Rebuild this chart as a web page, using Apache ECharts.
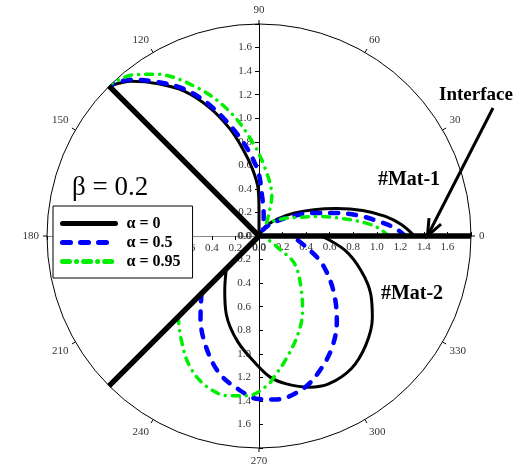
<!DOCTYPE html>
<html>
<head>
<meta charset="utf-8">
<script src="https://cdn.jsdelivr.net/npm/echarts@6/dist/echarts.min.js"></script>
<style>
  html, body { margin: 0; padding: 0; background: #fff; }
  #main { width: 518px; height: 464px; }
</style>
</head>
<body>
<div id="main"></div>
<script>
// every point is [radius, angle in degrees]
const mat1Alpha0 = [[1.32,0],[1.215,4.5],[1.086,8.8],[0.906,13.8],[0.70,19.4],[0.518,25.6],[0.36,33],[0.22,41.8],[0.097,56],[0,70],[0.2,90],[0.397,91],[0.572,95.6],[0.754,100.6],[0.947,105.3],[1.163,110.9],[1.384,117.3],[1.55,123.5],[1.70,129.4],[1.8,135]];
const mat1Alpha05 = [[1.24,0],[1.158,3.3],[1.026,6.9],[0.87,11.4],[0.688,16.5],[0.506,22.8],[0.32,31.2],[0.154,45],[0.06,58],[0.171,76.5],[0.34,85.6],[0.569,91.5],[0.858,101.2],[1.184,110.5],[1.40,117],[1.56,123.2],[1.72,129.5],[1.8,135]];
const mat1Alpha095 = [[1.10,0],[1.02,3.7],[0.914,6.9],[0.73,11.6],[0.548,17.6],[0.365,25.6],[0.25,36],[0.16,50],[0.13,60],[0.25,68],[0.356,72.2],[0.571,84.6],[0.801,94],[1.087,103.3],[1.364,112.6],[1.633,122.7],[1.74,128.2],[1.8,134]];

const mat2Alpha0 = [[0.393,225],[0.549,238],[0.722,247.4],[0.915,258.6],[1.097,269.2],[1.202,274.5],[1.277,280.5],[1.353,288.4],[1.388,295.2],[1.372,304.8],[1.296,314.4],[1.188,324.1],[1.07,332.5],[0.914,341.3],[0.739,350.6],[0.53,360]];
const mat2Alpha05 = [[0.691,225],[0.855,234.5],[1.031,243.8],[1.206,253.4],[1.311,262.1],[1.385,270],[1.395,276],[1.351,285.9],[1.262,293.7],[1.137,302.9],[0.98,312.4],[0.785,323.6],[0.585,336.3],[0.409,347],[0.28,360]];
const mat2Alpha095 = [[0.97,225],[1.092,232.6],[1.247,241.6],[1.349,250.3],[1.381,259],[1.36,265.9],[1.272,273.1],[1.192,276.6],[1.066,282.6],[0.901,291.4],[0.738,300.1],[0.564,309.2],[0.383,322.1],[0.2,328],[0.09,337]];

// interface and the two rays
const boundary = [[1.8,225],[0,0],[1.8,0],[0,0],[1.8,135]];
const interfacePoint = [1.43, 0];

const legendNames = ['α = 0', 'α = 0.5', 'α = 0.95'];
const radiusMax = 1.8;
const radiusStep = 0.2;
const angleStep = 30;

const serif = '"Liberation Serif", "Times New Roman", serif';
const chart = echarts.init(document.getElementById('main'));

const fmt = v => (v >= radiusMax - 1e-6 ? '' : v.toFixed(1));

function polarBox() {
  return { center: [259, 236], radius: 212 };
}

function angleAx(polarIndex, startAngle, show) {
  return {
    polarIndex, type: 'value', min: 0, max: 360, interval: angleStep,
    startAngle, clockwise: false, show,
    axisLine: { lineStyle: { color: '#000', width: 1 } },
    axisTick: { show: true, length: 4, lineStyle: { color: '#000' } },
    axisLabel: {
      fontFamily: serif, fontSize: 11, color: '#333', margin: 8,
      formatter: v => (v === 360 ? '' : String(v))
    },
    splitLine: { show: false }
  };
}

function radiusAx(polarIndex, extra) {
  const base = {
    polarIndex, type: 'value', min: 0, max: radiusMax, interval: radiusStep,
    axisLine: { lineStyle: { color: '#000', width: 1 } },
    axisTick: { show: true, length: 4, lineStyle: { color: '#000' } },
    axisLabel: { fontFamily: serif, fontSize: 11, color: '#333', margin: 7, formatter: fmt },
    splitLine: { show: false },
    splitArea: { show: false }
  };
  return echarts.util.merge(base, extra || {}, true);
}

function curve(name, data, color, width, type) {
  return {
    name, type: 'line', coordinateSystem: 'polar', polarIndex: 0,
    data, symbol: 'none', smooth: 0.35, z: 3,
    lineStyle: { color, width, type, cap: 'round', join: 'round' },
    itemStyle: { color }
  };
}

const blueDash = [8, 10];
const greenDash = [7, 7, 0.1, 7];

chart.setOption({
  animation: false,
  backgroundColor: '#fff',
  polar: [polarBox(), polarBox(), polarBox(), polarBox()],
  angleAxis: [
    angleAx(0, 0, true),
    angleAx(1, 90, false),
    angleAx(2, 270, false),
    angleAx(3, 180, false)
  ],
  radiusAxis: [
    // pointing right, labels below
    radiusAx(0, { axisTick: { inside: true }, axisLabel: { margin: -6, verticalAlign: 'top', align: 'center' } }),
    // pointing up, labels left
    radiusAx(1, {}),
    // pointing down, labels left
    radiusAx(2, { axisTick: { inside: true }, axisLabel: { margin: -8, align: 'right' } }),
    // pointing left, labels below
    radiusAx(3, { axisLine: { lineStyle: { color: '#888' } } })
  ],
  legend: {
    data: legendNames,
    orient: 'vertical',
    left: 53, top: 206,
    padding: [8, 12, 7, 7],
    itemWidth: 53, itemHeight: 14, itemGap: 0,
    backgroundColor: '#fff',
    borderColor: '#000', borderWidth: 1, borderRadius: 0,
    itemStyle: { opacity: 0 },
    lineStyle: { width: 5 },
    textStyle: { fontFamily: serif, fontSize: 16, lineHeight: 19, fontWeight: 'bold', color: '#000', padding: [0, 0, 0, 6] },
    selectedMode: false
  },
  series: [
    curve(legendNames[0], mat1Alpha0, '#000', 3, 'solid'),
    curve(legendNames[0], mat2Alpha0, '#000', 3, 'solid'),
    curve(legendNames[1], mat1Alpha05, '#0000ff', 4.5, blueDash),
    curve(legendNames[1], mat2Alpha05, '#0000ff', 4.5, blueDash),
    curve(legendNames[2], mat1Alpha095, '#00ee00', 3.5, greenDash),
    curve(legendNames[2], mat2Alpha095, '#00ee00', 3.5, greenDash),
    {
      name: 'interface', type: 'line', coordinateSystem: 'polar', polarIndex: 0,
      data: boundary, symbol: 'none', z: 4,
      lineStyle: { color: '#000', width: 5.5, cap: 'round', join: 'round' }
    }
  ]
});

// annotations
const tip = chart.convertToPixel({ seriesIndex: 6 }, interfacePoint);
const tail = [493, 108];
const dx = tail[0] - tip[0], dy = tail[1] - tip[1];
const len = Math.sqrt(dx * dx + dy * dy);
const ux = dx / len, uy = dy / len;
const wing = (deg) => {
  const a = deg * Math.PI / 180;
  return [tip[0] + 18 * (ux * Math.cos(a) - uy * Math.sin(a)),
          tip[1] + 18 * (ux * Math.sin(a) + uy * Math.cos(a))];
};

const boldText = (text, x, y, size) => ({
  type: 'text', z: 10,
  style: { text, x, y, fontFamily: serif, fontSize: size, fontWeight: 'bold', fill: '#000', align: 'center', verticalAlign: 'middle' }
});

chart.setOption({
  graphic: [
    {
      type: 'text', z: 10,
      style: { text: 'β = 0.2', x: 72, y: 188, fontFamily: serif, fontSize: 27, fill: '#000', align: 'left', verticalAlign: 'middle' }
    },
    boldText('#Mat-1', 409, 180, 20),
    boldText('#Mat-2', 412, 294, 20),
    boldText('Interface', 476, 95, 19),
    {
      type: 'line', z: 10,
      shape: { x1: tail[0], y1: tail[1], x2: tip[0], y2: tip[1] },
      style: { stroke: '#000', lineWidth: 3 }
    },
    {
      type: 'polyline', z: 10,
      shape: { points: [wing(22), tip, wing(-22)] },
      style: { stroke: '#000', lineWidth: 3, fill: null }
    }
  ]
});

window.addEventListener('resize', () => chart.resize());
</script>
</body>
</html>
